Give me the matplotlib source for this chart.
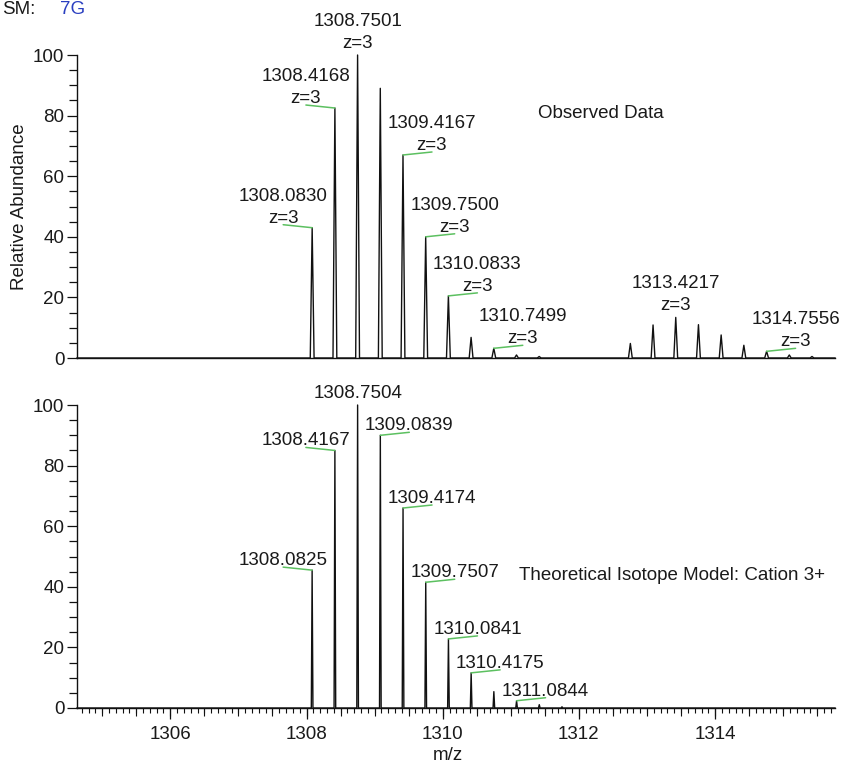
import numpy as np
import matplotlib
matplotlib.use("Agg")
import matplotlib.pyplot as plt
from matplotlib.ticker import MultipleLocator, NullLocator
from matplotlib.transforms import ScaledTranslation

plt.rcParams['font.family'] = ['Liberation Sans', 'DejaVu Sans']
FS = 13.5
plt.rcParams['font.size'] = FS
TXT = '#1a1a1a'
GREEN = '#5cc060'

# ---------------- data ----------------
obs_mz = [1308.0830, 1308.4168, 1308.7501, 1309.0834, 1309.4167, 1309.7500,
          1310.0833, 1310.4166, 1310.7499, 1311.0832, 1311.4165,
          1312.7551, 1313.0884, 1313.4217, 1313.7550, 1314.0883, 1314.4216,
          1314.7556, 1315.0889, 1315.4222]
obs_int = [43, 82.5, 100, 89, 67, 40, 20.5, 6.8, 3.2, 1.0, 0.5,
           4.8, 10.9, 13.4, 11.0, 7.6, 4.2, 2.2, 1.0, 0.5]
obs_label_mz = [1308.0830, 1308.4168, 1308.7501, 1309.4167, 1309.7500,
                1310.0833, 1310.7499, 1313.4217, 1314.7556]
obs_label_z = [3, 3, 3, 3, 3, 3, 3, 3, 3]

theo_mz = [1308.0825, 1308.4167, 1308.7504, 1309.0839, 1309.4174, 1309.7507,
           1310.0841, 1310.4175, 1310.7509, 1311.0844, 1311.4178, 1311.7512]
theo_int = [45.5, 85, 100, 90, 66, 41.5, 22.8, 11.6, 5.4, 2.4, 1.1, 0.4]
theo_label_mz = [1308.0825, 1308.4167, 1308.7504, 1309.0839, 1309.4174,
                 1309.7507, 1310.0841, 1310.4175, 1311.0844]

# label placement (side of the leader line): -1 left, 0 above, 1 right
obs_side = [-1, -1, 0, 1, 1, 1, 1, 0, 1]
theo_side = [-1, -1, 0, 1, 1, 1, 1, 1, 1]

XMIN, XMAX = 1304.63, 1315.76

fig = plt.figure(figsize=(8.42, 7.64), dpi=100)
ax1 = fig.add_axes([77/842, 1-358/764, (835-77)/842, (358-55)/764])
ax2 = fig.add_axes([77/842, 1-708/764, (835-77)/842, (708-405)/764])


def profile(mz, inten, hw):
    xs = [XMIN]
    ys = [0]
    for m, h in sorted(zip(mz, inten)):
        xs += [m - hw, m, m + hw]
        ys += [0, h, 0]
    xs.append(XMAX)
    ys.append(0)
    return xs, ys


def style(ax):
    ax.set_xlim(XMIN, XMAX)
    ax.set_ylim(0, 100)
    for s in ['top', 'right']:
        ax.spines[s].set_visible(False)
    for s in ['left', 'bottom']:
        ax.spines[s].set_linewidth(1.0)
        ax.spines[s].set_color('#111111')
    ax.yaxis.set_major_locator(MultipleLocator(20))
    ax.yaxis.set_minor_locator(MultipleLocator(5))
    ax.tick_params(axis='y', which='major', length=7, width=0.9, pad=2,
                   colors='#111111', labelcolor=TXT, labelsize=FS)
    ax.tick_params(axis='y', which='minor', length=6, width=0.9, colors='#111111')
    ax.patch.set_alpha(0)


def labels(ax, mz_list, inten_list, lab_mz, sides, zs=None):
    lookup = dict(zip(mz_list, inten_list))
    for i, (m, s) in enumerate(zip(lab_mz, sides)):
        h = lookup[m]
        dx = 29 * s
        base = 7 if s == 0 else 5
        if s != 0:
            ax.annotate('', xy=(m, h), xytext=(dx, 3), textcoords='offset pixels',
                        arrowprops=dict(arrowstyle='-', color=GREEN, lw=1.1,
                                        shrinkA=0, shrinkB=0), annotation_clip=False)
        tr = ax.transData + ScaledTranslation(dx/100, base/100, fig.dpi_scale_trans)
        if zs is not None:
            ax.text(m, h, 'z=%d' % zs[i], transform=tr, ha='center', va='baseline',
                    color=TXT, fontsize=FS, clip_on=False)
            tr2 = ax.transData + ScaledTranslation(dx/100, (base+22)/100, fig.dpi_scale_trans)
            ax.text(m, h, '%.4f' % m, transform=tr2, ha='center', va='baseline',
                    color=TXT, fontsize=FS, clip_on=False)
        else:
            ax.text(m, h, '%.4f' % m, transform=tr, ha='center', va='baseline',
                    color=TXT, fontsize=FS, clip_on=False)


# top: observed
xs, ys = profile(obs_mz, obs_int, 0.028)
ax1.plot(xs, ys, color='#111111', lw=1.0, clip_on=False)
style(ax1)
ax1.tick_params(axis='x', which='both', bottom=False, labelbottom=False)
ax1.xaxis.set_minor_locator(NullLocator())
labels(ax1, obs_mz, obs_int, obs_label_mz, obs_side, obs_label_z)
fig.text(601/842, 1-113/764, 'Observed Data', ha='center', va='center',
         color=TXT, fontsize=FS)

# bottom: theoretical
xs, ys = profile(theo_mz, theo_int, 0.012)
ax2.plot(xs, ys, color='#111111', lw=1.0, clip_on=False)
style(ax2)
ax2.xaxis.set_major_locator(MultipleLocator(2))
ax2.xaxis.set_minor_locator(MultipleLocator(0.1))
ax2.tick_params(axis='x', which='major', length=8, width=0.9, pad=5,
                colors='#111111', labelcolor=TXT, labelsize=FS)
ax2.tick_params(axis='x', which='minor', length=3.5, width=0.8, colors='#111111')
sec = ax2.secondary_xaxis('bottom')
sec.xaxis.set_major_locator(MultipleLocator(0.5))
sec.xaxis.set_minor_locator(NullLocator())
sec.tick_params(axis='x', length=5.5, width=0.8, labelbottom=False, colors='#111111')
sec.spines['bottom'].set_visible(False)
labels(ax2, theo_mz, theo_int, theo_label_mz, theo_side)
fig.text(672/842, 1-575/764, 'Theoretical Isotope Model: Cation 3+', ha='center',
         va='center', color=TXT, fontsize=FS)

# axis titles
fig.text(20/842, 1-207/764, 'Relative Abundance', rotation=90, ha='center',
         va='center', color=TXT, fontsize=FS)
fig.text(448/842, 1-755/764, 'm/z', ha='center', va='center', color=TXT, fontsize=FS)

# header
fig.text(2/842, 1-14/764, 'SM:', ha='left', va='baseline', color=TXT, fontsize=FS)
fig.text(60/842, 1-14/764, '7G', ha='left', va='baseline', color='#2a3fc0', fontsize=FS)

fig.savefig('out.png', dpi=100)
